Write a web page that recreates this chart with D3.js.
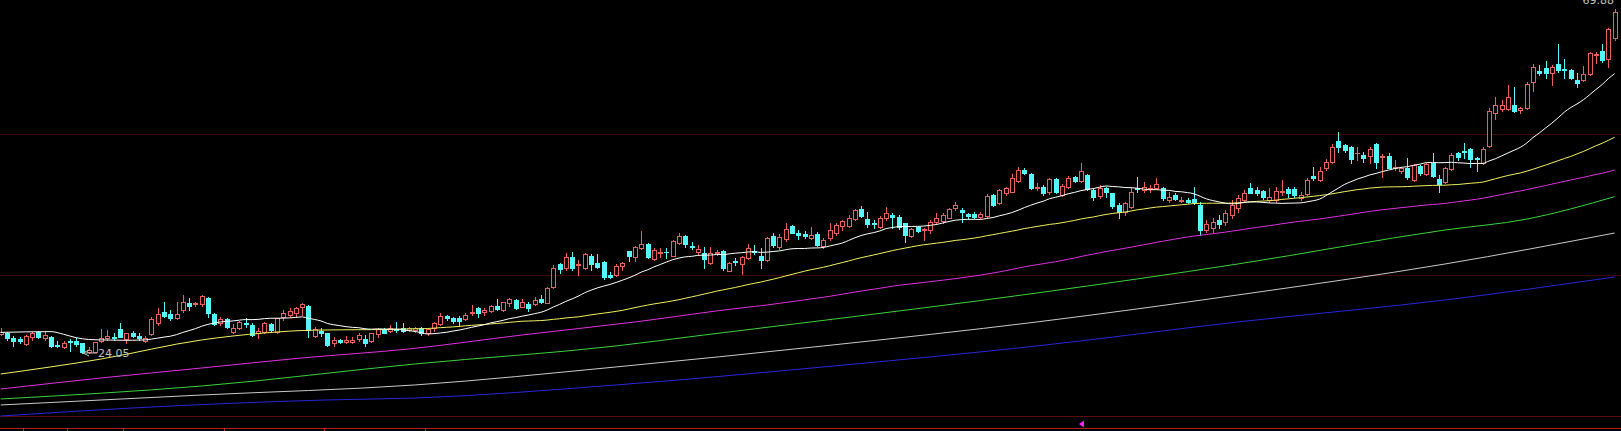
<!DOCTYPE html>
<html><head><meta charset="utf-8">
<script src="https://cdn.jsdelivr.net/npm/d3@7"></script>
<style>html,body{margin:0;padding:0;background:#000;overflow:hidden}</style>
</head><body><svg id="c" width="1621" height="431"></svg>
<script>
// ---- data ----
const opens = [26.59,26.76,26.10,25.88,25.25,26.23,26.90,26.01,26.23,25.12,24.90,25.65,25.65,25.34,24.14,24.23,25.70,26.01,26.23,27.21,
25.88,26.76,26.36,25.70,26.59,28.01,29.48,29.21,28.68,29.79,30.76,30.59,30.54,31.34,29.21,28.01,28.59,26.90,27.43,28.01,
27.79,26.68,26.90,27.88,26.81,28.90,29.12,29.34,30.23,30.36,26.36,26.99,26.68,25.34,25.79,25.56,25.48,25.88,25.88,25.65,
26.54,27.21,27.03,27.21,27.34,27.12,27.12,27.34,26.67,27.34,27.92,28.98,28.67,28.76,28.54,29.43,30.01,29.47,29.65,30.32,
29.78,30.67,31.12,30.23,30.58,30.54,31.29,30.76,32.81,35.87,35.34,36.89,35.74,35.34,37.03,36.09,36.14,34.45,34.45,35.65,
37.65,36.89,38.01,38.54,36.63,37.43,37.56,37.03,38.67,39.65,38.32,37.56,37.43,36.09,37.43,37.65,35.03,36.32,35.92,36.67,
37.65,36.98,36.45,39.65,38.23,39.25,40.98,40.09,39.87,39.35,39.88,38.30,39.35,40.01,41.03,41.03,41.92,43.21,41.92,41.35,
40.90,42.01,42.46,42.23,41.35,39.70,40.90,40.46,40.46,41.57,41.66,42.10,43.35,43.12,42.55,42.59,42.23,42.32,45.12,44.01,
45.35,45.57,47.03,48.46,47.88,46.10,46.23,45.48,47.26,45.12,46.23,47.48,46.99,47.79,45.79,44.99,46.10,45.35,43.79,42.90,
43.57,46.10,45.79,45.88,46.01,46.01,44.46,45.12,44.32,44.46,44.59,43.79,40.46,40.72,41.79,41.52,42.45,43.39,44.45,46.01,
45.79,45.65,44.45,44.45,45.56,45.88,45.92,44.76,45.25,47.65,47.12,48.68,49.56,52.36,51.79,51.56,50.68,50.45,50.32,51.88,
50.23,50.36,48.68,48.32,48.68,47.12,48.99,47.92,49.43,47.21,46.81,48.54,50.76,50.99,51.25,50.10,49.34,51.65,56.01,56.54,
56.54,57.12,56.45,56.68,60.23,61.70,62.01,61.34,62.59,61.92,61.79,60.45,60.45,61.25,63.79,64.32,63.21,66.01];
const highs = [27.34,26.90,26.36,26.23,26.45,26.90,27.03,27.03,26.32,25.70,25.70,25.92,26.01,25.43,24.90,25.56,27.21,27.12,26.68,28.10,
26.76,27.03,26.68,26.32,28.90,30.01,30.81,29.79,30.90,31.79,31.34,30.90,31.79,31.47,29.43,28.90,28.76,27.88,28.32,28.68,
28.01,27.34,28.23,28.01,28.76,29.79,30.01,30.23,30.68,30.45,27.56,27.34,26.76,26.23,25.92,26.36,26.23,26.68,26.45,26.76,
27.34,27.34,27.79,28.23,28.01,27.56,27.56,27.56,27.34,28.23,29.34,29.12,28.89,28.98,29.43,30.45,30.23,30.01,30.45,31.21,
30.89,31.34,31.21,31.21,30.81,31.56,31.78,32.81,35.78,36.09,37.34,37.56,36.45,37.43,37.25,37.25,36.32,34.89,35.87,36.23,
37.69,38.32,40.32,38.76,38.01,38.09,38.09,39.12,40.01,39.78,38.81,38.45,38.23,38.23,37.78,37.78,36.23,36.67,36.98,38.58,
38.45,38.01,39.47,40.01,39.87,41.43,41.12,40.45,40.36,40.90,40.15,39.35,41.35,41.35,41.79,42.46,43.21,43.66,42.90,41.79,
42.32,43.48,42.68,42.46,41.43,40.77,41.03,40.68,41.79,42.68,42.68,43.35,44.23,43.35,42.77,42.90,42.90,45.21,45.21,45.88,
46.23,47.88,48.81,48.68,48.01,46.77,46.46,47.35,47.35,46.55,47.70,47.70,49.43,47.88,46.01,46.46,46.23,45.43,44.01,44.23,
46.23,47.48,46.81,46.46,47.35,46.23,45.57,45.35,44.90,44.68,46.23,44.15,41.79,42.05,42.45,43.12,44.45,45.12,45.80,46.76,
46.14,45.79,46.01,46.23,47.12,46.14,46.14,45.56,47.34,48.90,48.90,49.88,51.92,53.48,51.92,51.70,51.56,50.90,51.56,52.01,
50.54,50.68,49.79,48.90,50.01,49.25,49.12,49.34,50.68,47.79,48.90,50.68,50.90,52.01,51.34,50.23,51.56,56.68,58.14,57.79,
59.79,59.48,56.90,60.23,62.59,62.45,63.03,62.45,65.25,63.21,61.88,61.34,62.32,64.23,64.23,65.25,67.34,69.88];
const lows = [26.45,25.79,24.99,25.43,25.12,25.79,26.01,25.79,24.81,24.90,24.68,24.30,24.99,24.05,24.10,24.12,25.56,25.79,25.79,26.14,
25.34,26.23,25.79,25.48,26.45,27.79,28.90,28.45,28.54,29.56,29.79,30.32,30.32,28.90,27.79,27.79,27.34,26.68,27.21,27.56,
26.32,26.01,26.68,26.90,26.68,28.45,28.90,28.90,29.12,26.23,26.23,26.32,24.99,24.99,25.34,25.43,25.34,25.70,24.99,25.56,
26.23,26.68,26.90,26.90,26.90,27.02,26.89,26.45,26.45,27.03,27.78,28.45,28.09,27.65,28.45,29.12,28.89,29.12,29.56,29.78,
29.69,30.32,29.87,30.14,29.69,30.45,30.76,30.67,32.67,34.76,35.12,35.12,34.45,35.25,35.12,35.43,33.87,34.01,34.32,35.12,
36.36,36.36,37.92,36.67,36.45,36.89,36.67,36.98,38.54,38.14,37.92,37.21,35.43,35.92,37.12,35.12,34.98,35.78,34.58,36.54,
37.21,35.43,36.36,38.23,37.92,39.03,40.01,39.25,39.34,39.26,38.30,38.10,39.12,39.79,40.46,40.90,41.79,42.23,40.90,40.77,
40.77,41.79,40.68,40.59,38.90,39.57,40.15,39.12,40.01,41.21,41.35,42.01,43.12,41.57,42.01,42.01,42.01,42.23,43.70,43.88,
45.12,45.48,46.81,47.88,45.92,45.79,45.12,45.21,45.43,45.03,46.01,46.90,46.90,45.79,44.46,44.77,44.90,43.35,42.10,42.46,
43.35,45.57,45.57,45.57,45.92,44.46,44.23,44.46,44.15,44.01,43.88,39.79,40.23,40.19,40.72,41.12,42.05,42.85,44.20,45.34,
45.12,44.55,44.20,44.20,45.12,44.90,44.90,44.45,45.12,47.12,47.03,48.45,49.34,50.90,50.81,49.34,49.79,49.48,49.34,48.68,
47.48,48.68,48.45,48.10,47.21,47.03,47.79,47.79,47.56,45.56,46.68,48.45,49.79,50.01,48.90,48.36,49.25,51.56,55.21,56.32,
56.45,56.23,56.01,56.54,58.99,61.12,60.68,59.79,61.56,60.68,60.54,59.56,60.36,61.12,62.68,62.90,62.23,65.79];
const closes = [26.90,26.10,25.65,25.65,26.32,26.68,26.23,26.41,24.99,24.99,25.43,25.56,25.25,24.23,24.45,25.56,26.01,26.32,26.10,26.23,
26.68,26.36,26.01,26.10,28.54,29.21,29.03,28.68,29.21,30.90,30.36,30.68,31.65,29.34,27.92,28.54,27.56,27.43,28.14,27.88,
26.45,27.03,28.01,27.12,28.68,29.43,29.61,30.01,30.59,27.12,27.21,26.76,25.12,25.79,25.48,25.79,25.79,26.45,25.43,26.68,
27.21,26.76,27.34,27.12,27.03,27.34,27.34,26.67,27.21,28.09,28.98,28.67,28.36,28.36,29.12,29.56,29.34,29.78,30.32,29.96,
30.81,31.25,30.09,30.89,30.01,31.12,30.89,32.67,35.34,35.25,36.89,35.34,35.87,37.25,35.92,35.56,34.14,34.23,35.65,36.01,
36.98,38.23,38.54,36.81,37.78,37.56,37.47,38.98,39.65,38.58,38.14,37.92,36.58,37.34,37.56,35.34,36.01,36.18,36.81,38.01,
37.52,36.45,39.34,38.45,39.47,40.54,40.09,39.78,39.65,39.79,38.46,39.12,40.46,41.12,41.66,42.10,43.12,42.37,41.21,41.26,
42.10,42.68,42.23,40.90,39.79,40.59,40.32,40.59,41.57,42.01,42.46,43.26,43.79,42.81,42.32,42.23,42.55,45.03,43.79,45.79,
46.01,47.35,48.46,48.01,46.10,46.23,45.35,47.26,45.57,46.37,47.35,47.03,48.32,45.88,44.90,46.01,45.57,43.70,42.90,44.01,
45.48,45.92,46.23,46.10,46.55,44.68,44.90,44.59,44.46,44.23,44.15,40.46,41.21,41.52,41.25,42.72,43.79,44.72,45.43,45.43,
45.43,44.81,44.81,45.65,45.70,45.34,45.12,45.12,47.12,47.34,48.36,49.48,51.56,51.56,51.12,49.92,50.76,50.01,51.21,49.56,
50.36,48.76,48.90,48.76,47.56,49.12,48.01,49.21,47.65,46.54,48.68,50.45,50.14,50.85,49.88,49.88,51.25,56.32,57.12,57.12,
58.14,56.32,56.68,59.92,62.23,61.34,61.34,62.23,61.79,61.79,60.68,60.10,61.25,64.10,63.92,63.12,67.21,69.56];

// moving-average values before each average has enough bars: [bar index, price]
const ma20Lead  = [[0,26.8],[8,26.9],[10,26.55],[12,26.1],[14,25.85],[17,25.78]];
const ma60Lead  = [[0,21.25],[16,23.25],[32,25.79],[42,26.72],[50,27.1]];
const ma120Lead = [[0,19.25],[16,20.72],[32,22.05],[48,23.39],[65,24.59],[83,26.45],[101,28.19]];
// longer averages: [bar index, price]
const maGreen = [[0,17.92],[32,19.65],[66,22.59],[98,24.99],[112,26.45],[129,28.19],[165,32.05],[197,35.92],[230,40.45],[243,41.9],[257,44.9]];
const maGray  = [[0,17.12],[32,18.45],[66,19.79],[98,22.19],[131,24.99],[165,28.19],[197,31.79],[230,35.92],[257,40.05]];
const maBlue  = [[0,15.65],[21,16.72],[52,17.79],[66,18.05],[98,19.79],[131,22.19],[165,24.99],[197,28.19],[230,31.12],[257,34.19]];

const gridPrices = [53.25, 34.45];
const floorPrice = 15.65;
const dateTickIdx = [3.5, 10.5, 19.5, 35.5, 51.5, 67.5];
const markerIdx = 172;

// ---- drawing ----
const W = 1621, H = 431;
const svg = d3.select('#c');
svg.append('rect').attr('width', W).attr('height', H).attr('fill', '#000');
const n = closes.length;
const x = d3.scaleLinear().domain([0, n - 1]).range([0.7, 1614.66]);
const y = d3.scaleLinear().domain([15.65, 71.12]).range([416, 0]);

const UP = '#e8605c', DOWN = '#54f8f8';

// grid
svg.selectAll('line.grid').data(gridPrices).join('line')
  .attr('x1', 0).attr('x2', W)
  .attr('y1', d => Math.round(y(d)) + 0.5).attr('y2', d => Math.round(y(d)) + 0.5)
  .attr('stroke', '#3e0808').attr('stroke-width', 1);
svg.append('line').attr('x1', 0).attr('x2', W)
  .attr('y1', Math.round(y(floorPrice)) + 0.5).attr('y2', Math.round(y(floorPrice)) + 0.5)
  .attr('stroke', '#5a0c0c');
svg.append('line').attr('x1', 0).attr('x2', W).attr('y1', H - 2.5).attr('y2', H - 2.5)
  .attr('stroke', '#b01c1c');
svg.selectAll('line.tick').data(dateTickIdx).join('line')
  .attr('x1', d => Math.round(x(d)) + 0.5).attr('x2', d => Math.round(x(d)) + 0.5)
  .attr('y1', H - 3).attr('y2', H).attr('stroke', '#c03030');

// marker triangle
const mx = Math.round(x(markerIdx));
svg.append('path').attr('d', `M${mx-2},${H-7} L${mx+3},${H-10.5} L${mx+3},${H-3.5} Z`).attr('fill', '#ff20ff');

// candles
const g = svg.append('g');
const bw = 5;
for (let i = 0; i < n; i++) {
  const o = opens[i], c = closes[i], h = highs[i], l = lows[i];
  const cx = Math.round(x(i));
  const top = Math.round(y(Math.max(o, c)));
  const bot = Math.round(y(Math.min(o, c)));
  const yh = Math.round(y(h)), yl = Math.round(y(l));
  const up = c >= o;
  const col = up ? UP : DOWN;
  if (up) {
    if (yh < top) g.append('line').attr('x1', cx + 0.5).attr('x2', cx + 0.5).attr('y1', yh).attr('y2', top).attr('stroke', col);
    if (yl > bot) g.append('line').attr('x1', cx + 0.5).attr('x2', cx + 0.5).attr('y1', bot).attr('y2', yl + 1).attr('stroke', col);
    if (bot - top >= 2) {
      g.append('rect').attr('x', cx - 2 + 0.5).attr('y', top + 0.5).attr('width', bw - 1).attr('height', bot - top)
        .attr('fill', '#000').attr('stroke', col);
    } else {
      g.append('rect').attr('x', cx - 2).attr('y', top).attr('width', bw).attr('height', Math.max(1, bot - top + 1)).attr('fill', col);
    }
  } else {
    g.append('line').attr('x1', cx + 0.5).attr('x2', cx + 0.5).attr('y1', yh).attr('y2', yl + 1).attr('stroke', col);
    g.append('rect').attr('x', cx - 2).attr('y', top).attr('width', bw).attr('height', Math.max(1, bot - top + 1)).attr('fill', col);
  }
}

// moving averages
function sma(period) {
  const out = []; let s = 0;
  for (let i = 0; i < n; i++) {
    s += closes[i];
    if (i >= period) s -= closes[i - period];
    if (i >= period - 1) out.push([i, s / period]);
  }
  return out;
}
const line = d3.line().x(d => x(d[0])).y(d => y(d[1])).curve(d3.curveMonotoneX);
const series = [
  { pts: maBlue, col: '#2626d8' },
  { pts: maGray, col: '#c8c8c8' },
  { pts: maGreen, col: '#3ad23a' },
  { pts: ma120Lead.concat(sma(120)), col: '#e030e0' },
  { pts: ma60Lead.concat(sma(60)), col: '#f0f060' },
  { pts: ma20Lead.concat(sma(20)), col: '#ffffff' }
];
svg.selectAll('path.ma').data(series).join('path')
  .attr('d', d => line(d.pts)).attr('fill', 'none')
  .attr('stroke', d => d.col).attr('stroke-width', 1);

// min / max labels
const minI = d3.minIndex(lows), maxI = d3.maxIndex(highs);
const fmt = d3.format('.2f');
const lx = Math.round(x(minI)) + 1, ly = Math.round(y(lows[minI]));
svg.append('path').attr('d', `M${lx+6},${ly-3} L${lx},${ly} L${lx+6},${ly+3} M${lx},${ly} L${lx+14},${ly}`)
  .attr('fill', 'none').attr('stroke', '#c0c0c0');
svg.append('text').attr('x', lx + 15).attr('y', ly + 4).text(fmt(lows[minI]))
  .attr('fill', '#c0c0c0').attr('font-family', 'DejaVu Sans, sans-serif').attr('font-size', 11);
svg.append('text').attr('x', Math.round(x(maxI)) - 1).attr('y', Math.round(y(highs[maxI])) - 5)
  .attr('text-anchor', 'end').text(fmt(highs[maxI]))
  .attr('fill', '#c0c0c0').attr('font-family', 'DejaVu Sans, sans-serif').attr('font-size', 11);
</script>
</body></html>
